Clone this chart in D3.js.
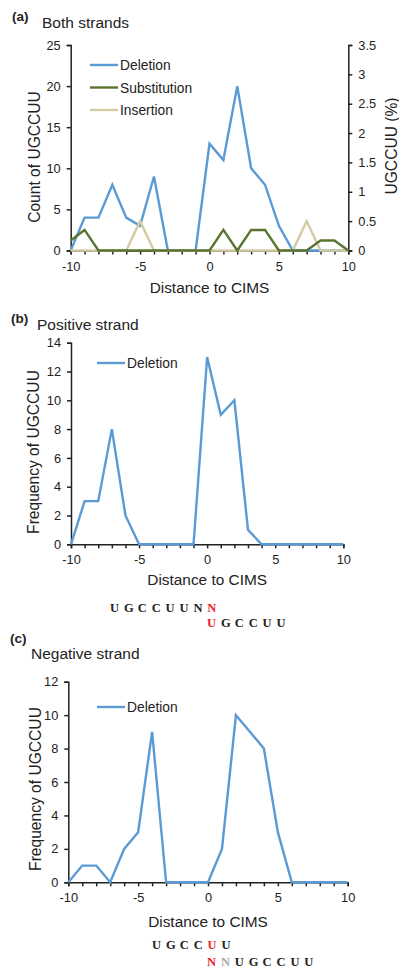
<!DOCTYPE html>
<html>
<head>
<meta charset="utf-8">
<script src="https://cdn.jsdelivr.net/npm/d3@7"></script>
<style>
  body { margin:0; background:#fff; }
  text { font-family: Arial, "Liberation Sans", sans-serif; fill:#222; }
  .axis path, .axis line { stroke:#222; stroke-width:1.5; }
  .axis text { font-size:12.8px; fill:#222; }
  .seq { font-family:"Liberation Serif", "Times New Roman", serif; font-weight:bold; font-size:12.5px; }
</style>
</head>
<body>
<div id="chart"></div>
<script>
const W = 399, H = 969

// distance to CIMS
const positions = d3.range(-10, 11)

// (a) both strands
const delBoth = [0,4,4,8,4,3,9,0,0,0,13,11,20,10,8,3,0,0,0,0,0]
const subBoth = [0.17,0.35,0,0,0,0,0,0,0,0,0,0.35,0,0.35,0.35,0,0,0,0.17,0.17,0]
const insBoth = [0,0,0,0,0,0.5,0,0,0,0,0,0,0,0,0,0,0,0.5,0,0,0]

// (b) positive strand
const delPos = [0,3,3,8,2,0,0,0,0,0,13,9,10,1,0,0,0,0,0,0,0]

// (c) negative strand
const delNeg = [0,1,1,0,2,3,9,0,0,0,0,2,10,9,8,3,0,0,0,0,0]

const blue = "#5b9bd5", green = "#5b7530", tan = "#d5cba3"

let svg = d3.select("#chart").append("svg")
    .attr("width", W)
    .attr("height", H)

function xAxisFor(g, x, y0) {
  g.append("g").attr("class", "axis")
      .attr("transform", `translate(0,${y0})`)
      .call(d3.axisBottom(x).tickValues(positions).tickSize(4).tickPadding(7)
          .tickFormat(d => d % 5 === 0 ? d : ""))
}

function panel(opts) {
  let x = d3.scaleLinear().domain([-10, 10]).range(opts.xr)
  let y = d3.scaleLinear().domain([0, opts.ymax]).range(opts.yr)
  let g = svg.append("g")

  g.append("g").attr("class", "axis")
      .attr("transform", `translate(${opts.xr[0]},0)`)
      .call(d3.axisLeft(y).tickValues(d3.range(0, opts.ymax + 0.001, opts.ystep)).tickSize(4).tickPadding(6))
  xAxisFor(g, x, opts.yr[0])

  // title
  g.append("text").attr("x", opts.tag[0]).attr("y", opts.tag[1])
      .attr("font-size", 13.5).attr("font-weight", "bold").text(opts.label)
  g.append("text").attr("x", opts.title[0]).attr("y", opts.title[1])
      .attr("font-size", 15.5).text(opts.titleText)

  // axis titles
  g.append("text").attr("x", (opts.xr[0] + opts.xr[1]) / 2).attr("y", opts.xtitleY)
      .attr("text-anchor", "middle").attr("font-size", 15.4).text("Distance to CIMS")
  g.append("text")
      .attr("transform", `translate(${opts.ytitle[0]},${opts.ytitle[1]}) rotate(-90)`)
      .attr("text-anchor", "middle").attr("font-size", 15.6).text(opts.ytitleText)

  return {g, x, y}
}

function drawLine(p, vals, color, yScale) {
  let ys = yScale || p.y
  p.g.append("path")
      .datum(positions.map((d, i) => [d, vals[i]]))
      .attr("fill", "none")
      .attr("stroke", color)
      .attr("stroke-width", 2.4)
      .attr("stroke-linejoin", "miter")
      .attr("d", d3.line().x(d => p.x(d[0])).y(d => ys(d[1])))
}

function legend(p, items, x0, y0, gap) {
  items.forEach((it, i) => {
    p.g.append("line").attr("x1", x0).attr("x2", x0 + 28)
        .attr("y1", y0 + i * gap).attr("y2", y0 + i * gap)
        .attr("stroke", it[1]).attr("stroke-width", 2.4)
    p.g.append("text").attr("x", x0 + 30).attr("y", y0 + i * gap + 5)
        .attr("font-size", 13.8).text(it[0])
  })
}

// ---- (a)
let pa = panel({
  xr:[70.7, 348.3], yr:[250.5, 45], ymax:25, ystep:5,
  label:"(a)", tag:[12, 21], titleText:"Both strands", title:[42, 28],
  xtitleY:293, ytitle:[40, 157], ytitleText:"Count of UGCCUU"
})
let yRight = d3.scaleLinear().domain([0, 3.5]).range([250.5, 45])
pa.g.append("g").attr("class", "axis")
    .attr("transform", "translate(348.3,0)")
    .call(d3.axisRight(yRight).tickValues(d3.range(0, 3.51, 0.5)).tickSize(4).tickPadding(6)
        .tickFormat(d => +d.toFixed(1)))
pa.g.append("text")
    .attr("transform", "translate(397,146) rotate(-90)")
    .attr("text-anchor", "middle").attr("font-size", 15.6).text("UGCCUU (%)")
drawLine(pa, delBoth, blue)
drawLine(pa, insBoth, tan, yRight)
drawLine(pa, subBoth, green, yRight)
legend(pa, [["Deletion", blue], ["Substitution", green], ["Insertion", tan]], 90, 65, 22.5)

// ---- (b)
let pb = panel({
  xr:[71, 343.3], yr:[544.3, 342.7], ymax:14, ystep:2,
  label:"(b)", tag:[11, 323], titleText:"Positive strand", title:[37, 330],
  xtitleY:585, ytitle:[39, 452], ytitleText:"Frequency of UGCCUU"
})
drawLine(pb, delPos, blue)
legend(pb, [["Deletion", blue]], 97, 363, 22)

// ---- (c)
let pc = panel({
  xr:[68.3, 347.7], yr:[882.3, 681.7], ymax:12, ystep:2,
  label:"(c)", tag:[10, 643], titleText:"Negative strand", title:[31, 659],
  xtitleY:927, ytitle:[41, 789], ytitleText:"Frequency of UGCCUU"
})
drawLine(pc, delNeg, blue)
legend(pc, [["Deletion", blue]], 97, 707, 22)

// sequence annotations, one letter per slot
const red = "#e8262a", grey = "#aaa", ink = "#222"
function seq(x0, y0, letters, colors) {
  let step = 13.9
  svg.append("g").selectAll("text")
      .data(letters.split(""))
      .join("text")
      .attr("class", "seq")
      .attr("x", (d, i) => x0 + i * step)
      .attr("y", y0)
      .style("fill", (d, i) => colors[i] || ink)
      .text(d => d)
}
seq(110, 612, "UGCCUUNN", {7: red})
seq(207, 627, "UGCCUU", {0: red})
seq(152, 949, "UGCCUU", {4: red})
seq(207, 966, "NNUGCCUU", {0: red, 1: grey})
</script>
</body>
</html>
